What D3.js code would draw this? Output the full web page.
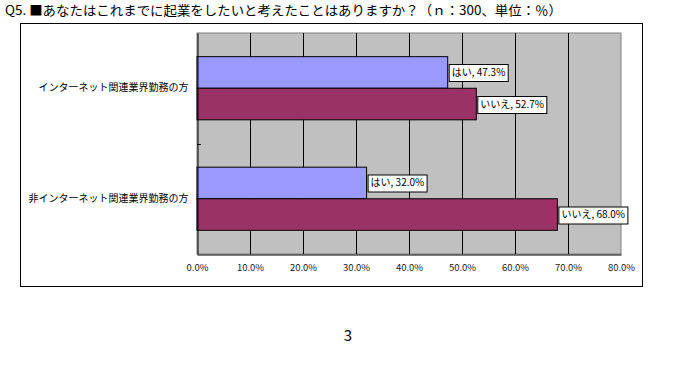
<!DOCTYPE html>
<html>
<head>
<meta charset="utf-8">
<script src="https://cdn.jsdelivr.net/npm/d3@7"></script>
<style>
  body { margin: 0; background: #fff; }
  text { font-family: "Noto Sans CJK JP", "Noto Sans", sans-serif; }
</style>
</head>
<body>
<div id="chart"></div>
<script>
//data
const categories = ["インターネット関連業界勤務の方", "非インターネット関連業界勤務の方"];
const seriesNames = ["はい", "いいえ"];
const yesValues = [47.3, 32.0];
const noValues = [52.7, 68.0];
const xTicks = [0, 10, 20, 30, 40, 50, 60, 70, 80];
const title = "Q5. ■あなたはこれまでに起業をしたいと考えたことはありますか？（ｎ：300、単位：％）";
const pageNo = "3";

const colors = { "はい": "#9999ff", "いいえ": "#993366" };

const width = 689, height = 392;
const svg = d3.select("#chart").append("svg")
  .attr("width", width)
  .attr("height", height);

//title
svg.append("text")
  .attr("x", 5)
  .attr("y", 15)
  .attr("font-size", 13)
  .attr("fill", "#000")
  .attr("textLength", 557)
  .attr("lengthAdjust", "spacingAndGlyphs")
  .text(title);

//outer frame
svg.append("rect")
  .attr("x", 20.5).attr("y", 23.5)
  .attr("width", 622).attr("height", 263)
  .attr("fill", "none").attr("stroke", "#000");

//scales
const x = d3.scaleLinear().domain([0, 80]).range([197, 621]);
const y = d3.scaleBand().domain(categories).range([33, 254]).paddingInner(0).paddingOuter(0);
const yInner = d3.scaleBand().domain(seriesNames).range([0, y.bandwidth()]).paddingInner(0).paddingOuter(0.75);

//plot background
svg.append("rect")
  .attr("x", x(0)).attr("y", y.range()[0])
  .attr("width", x(80) - x(0)).attr("height", y.range()[1] - y.range()[0])
  .attr("fill", "#c0c0c0")
  .attr("stroke", "#808080");

//gridlines
svg.append("g")
  .selectAll("line")
  .data(xTicks.slice(1, -1))
  .join("line")
  .attr("x1", d => Math.round(x(d)) + 0.5).attr("x2", d => Math.round(x(d)) + 0.5)
  .attr("y1", y.range()[0]).attr("y2", y.range()[1])
  .attr("stroke", "#000");

//bars
const rows = categories.map((c, i) => ({ cat: c, values: [
  { name: seriesNames[0], v: yesValues[i] },
  { name: seriesNames[1], v: noValues[i] }
]}));

const groups = svg.append("g").selectAll("g")
  .data(rows)
  .join("g")
  .attr("transform", d => `translate(0,${y(d.cat)})`);

groups.selectAll("rect")
  .data(d => d.values)
  .join("rect")
  .attr("x", x(0))
  .attr("y", d => yInner(d.name))
  .attr("width", d => x(d.v) - x(0))
  .attr("height", yInner.bandwidth())
  .attr("fill", d => colors[d.name])
  .attr("stroke", "#000");

//data labels
const fmt = d3.format(".1f");
groups.selectAll("g.lbl")
  .data(d => d.values)
  .join("g")
  .attr("class", "lbl")
  .each(function (d) {
    const g = d3.select(this);
    const cy = yInner(d.name) + yInner.bandwidth() / 2;
    const rect = g.append("rect")
      .attr("fill", "#fff").attr("stroke", "#000");
    const t = g.append("text")
      .attr("x", x(d.v) + 4)
      .attr("y", cy)
      .attr("dy", "0.35em")
      .attr("font-size", 10)
      .attr("fill", "#000")
      .text(d.name + ", " + fmt(d.v) + "%");
    const w = t.node().getComputedTextLength();
    rect.attr("x", x(d.v) + 1.5)
      .attr("y", Math.round(cy - 8) + 0.5)
      .attr("width", Math.round(w + 5))
      .attr("height", 17);
  });

//axes
const xAxis = d3.axisBottom(x)
  .tickValues(xTicks)
  .tickSize(0)
  .tickPadding(10)
  .tickFormat(d => fmt(d) + "%");

svg.append("g")
  .attr("transform", `translate(0,${y.range()[1] + 0.5})`)
  .call(xAxis)
  .call(g => g.select(".domain").attr("stroke", "#000"))
  .selectAll("text")
  .attr("font-size", 9.5)
  .attr("fill", "#222")
  .attr("font-family", "\"Noto Sans\", sans-serif");

const yAxis = d3.axisLeft(y).tickSize(0).tickPadding(9);
svg.append("g")
  .attr("transform", `translate(${x(0) + 0.5},0)`)
  .call(yAxis)
  .call(g => g.select(".domain").attr("stroke", "#000"))
  .selectAll("text")
  .attr("font-size", 10)
  .attr("fill", "#000");

//category boundary ticks
svg.append("g").selectAll("line")
  .data(categories.slice(1))
  .join("line")
  .attr("x1", x(0)).attr("x2", x(0) + 4)
  .attr("y1", d => Math.round(y(d)) + 0.5)
  .attr("y2", d => Math.round(y(d)) + 0.5)
  .attr("stroke", "#000");

//page number
svg.append("text")
  .attr("x", 348)
  .attr("y", 341)
  .attr("text-anchor", "middle")
  .attr("font-size", 15)
  .attr("font-family", "\"DejaVu Sans\", sans-serif")
  .attr("fill", "#000")
  .text(pageNo);
</script>
</body>
</html>
